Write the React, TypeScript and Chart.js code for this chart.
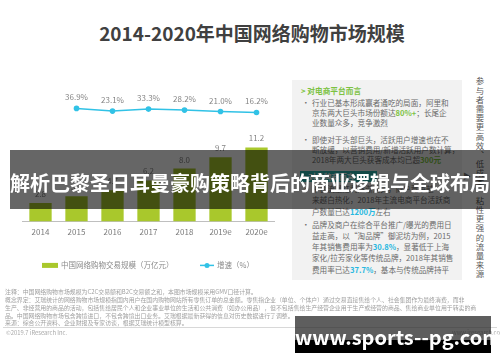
import React, { useEffect, useRef } from "react";
import { Chart, registerables } from "chart.js";
Chart.register(...registerables);

const years = ["2014", "2015", "2016", "2017", "2018", "2019e", "2020e"];
const marketSize = [2.8, 3.8, 4.7, 6.2, 8.0, 9.7, 11.2];
const growthRate = [null, 36.9, 23.1, 33.3, 28.2, 21.0, 16.2];
const barSeriesName = "中国网络购物交易规模（万亿元）";
const lineSeriesName = "增速（%）";
const titleText = "2014-2020年中国网络购物市场规模";
const bannerText = "解析巴黎圣日耳曼豪购策略背后的商业逻辑与全球布局";
const siteText = "www.sports--pg.com";
const sideText = "参与者需要更高效、低成本、粘性更强的流量来源";

const BAR_COLOR = "#a9c82c";
const LINE_COLOR = "#31c2e6";
const FONT = "'Noto Sans CJK SC', 'Noto Sans', sans-serif";

const valueLabelPlugin = {
  id: "valueLabels",
  afterDatasetsDraw(chart: any) {
    const ctx = chart.ctx;
    ctx.save();
    ctx.font = `8px ${FONT}`;
    ctx.fillStyle = "#858585";
    ctx.textAlign = "center";
    ctx.textBaseline = "middle";
    chart.data.datasets.forEach((ds: any, i: number) => {
      const meta = chart.getDatasetMeta(i);
      meta.data.forEach((el: any, j: number) => {
        const v = ds.data[j];
        if (v == null) return;
        const isLine = ds.type === "line";
        const txt = isLine ? v.toFixed(1) + "%" : v.toFixed(1);
        ctx.fillText(txt, el.x, el.y - (isLine ? 11 : 9));
      });
    });
    ctx.restore();
  },
};

const legendPlugin = {
  id: "customLegend",
  afterDraw(chart: any) {
    const ctx = chart.ctx;
    const area = chart.chartArea;
    ctx.save();
    ctx.font = `7.5px ${FONT}`;
    ctx.textBaseline = "middle";
    ctx.textAlign = "left";
    const box = 16;
    const gap = 3;
    let x = area.left + 19.5;
    const y = area.bottom + 44;
    ctx.fillStyle = BAR_COLOR;
    ctx.fillRect(x, y - 2.5, box, 5);
    x += box + gap;
    ctx.fillStyle = "#8a8a8a";
    ctx.fillText(barSeriesName, x, y);
    x = area.left + 177.5;
    ctx.strokeStyle = LINE_COLOR;
    ctx.lineWidth = 1.5;
    ctx.beginPath();
    ctx.moveTo(x, y);
    ctx.lineTo(x + 14, y);
    ctx.stroke();
    ctx.fillStyle = LINE_COLOR;
    ctx.beginPath();
    ctx.arc(x + 7, y, 2.5, 0, Math.PI * 2);
    ctx.fill();
    x += 14 + gap;
    ctx.fillStyle = "#8a8a8a";
    ctx.fillText(lineSeriesName, x, y);
    ctx.restore();
  },
};

function MarketChart() {
  const ref = useRef<HTMLCanvasElement | null>(null);
  useEffect(() => {
    if (!ref.current) return;
    const chart = new Chart(ref.current, {
      type: "bar",
      data: {
        labels: years,
        datasets: [
          {
            type: "line",
            label: lineSeriesName,
            data: growthRate as any,
            yAxisID: "y2",
            borderColor: LINE_COLOR,
            backgroundColor: LINE_COLOR,
            borderWidth: 1.5,
            pointRadius: 2.8,
            pointBackgroundColor: LINE_COLOR,
            pointBorderWidth: 0,
            tension: 0,
            order: 0,
          } as any,
          {
            type: "bar",
            label: barSeriesName,
            data: marketSize,
            yAxisID: "y",
            backgroundColor: BAR_COLOR,
            barPercentage: 0.62,
            categoryPercentage: 1,
            order: 1,
          },
        ],
      },
      options: {
        animation: false,
        responsive: false,
        maintainAspectRatio: false,
        devicePixelRatio: 1,
        layout: { padding: { top: 35, left: 22.5, right: 7.5, bottom: 47 } },
        plugins: { legend: { display: false }, tooltip: { enabled: false } },
        scales: {
          x: {
            offset: true,
            grid: { display: false, drawTicks: false },
            border: { display: true, color: "#bfbfbf", width: 1 },
            ticks: { color: "#7a7a7a", font: { size: 8, family: FONT }, padding: 6 },
          },
          y: { display: false, min: 0, max: 19.13 },
          y2: { display: false, min: -544.3, max: 105.9 },
        },
      },
      plugins: [valueLabelPlugin, legendPlugin],
    });
    return () => chart.destroy();
  }, []);
  return (
    <canvas
      ref={ref}
      width={282}
      height={230}
      style={{ position: "absolute", left: 0, top: 60, width: 282, height: 230 }}
    />
  );
}

type Part = { t: string; c?: string };
const panelLines: { y: number; bullet?: boolean; parts: Part[] }[] = [
  { y: 103, bullet: true, parts: [{ t: "行业已基本形成赢者通吃的局面，阿里和" }] },
  { y: 113, parts: [{ t: "京东两大巨头市场份额达" }, { t: "80%+", c: "#7cc242" }, { t: "；长尾企" }] },
  { y: 123, parts: [{ t: "业数量众多，竞争激烈" }] },
  { y: 140, bullet: true, parts: [{ t: "即使对于头部巨头，活跃用户增速也在不" }] },
  { y: 150, parts: [{ t: "断放缓，以营销费用/新增活跃用户数计算，" }] },
  { y: 160, parts: [{ t: "2018年两大巨头获客成本均已超" }, { t: "300元", c: "#7cc242" }] },
  { y: 189, bullet: true, parts: [{ t: "平台流量红利逐渐消失，商户竞争越" }] },
  { y: 200, parts: [{ t: "来越白热化，2018年主流电商平台活跃商" }] },
  { y: 212, parts: [{ t: "户数量已达" }, { t: "1200万", c: "#27b8e0" }, { t: "左右" }] },
  { y: 225, bullet: true, parts: [{ t: "品牌及商户在综合平台推广/曝光的费用日" }] },
  { y: 236, parts: [{ t: "益走高，以“淘品牌”御泥坊为例，2015" }] },
  { y: 247, parts: [{ t: "年其销售费用率为" }, { t: "30.8%", c: "#27b8e0" }, { t: "，显著低于上海" }] },
  { y: 258, parts: [{ t: "家化/拉芳家化等传统品牌，2018年其销售" }] },
  { y: 270, parts: [{ t: "费用率已达" }, { t: "37.7%", c: "#27b8e0" }, { t: "，基本与传统品牌持平" }] },
];

const footnotes: { y: number; t: string }[] = [
  { y: 292, t: "注释：中国网络购物市场规模为C2C交易额和B2C交易额之和，本图市场规模采用GMV口径计算。" },
  { y: 300, t: "概念界定：艾瑞统计的网络购物市场规模指国内用户在国内购物网站所有零售订单的总金额。零售指企业（单位、个体户）通过交易直接售给个人、社会集团作为最终消费，而非" },
  { y: 308, t: "生产、非经营用的商品的活动，包括售给居民个人和企业事业单位的生活和公共消费（如办公用品），但不包括售给生产经营企业用于生产或经营的商品、售给商业单位用于转卖的商" },
  { y: 316, t: "品。中国网络购物市场包含跨境进口，不包含跨境出口业务。艾瑞根据最新获得的信息对历史数据进行了调整。" },
  { y: 323, t: "来源：综合公开资料、企业财报及专家访谈，根据艾瑞统计模型核算。" },
];

export default function App() {
  return (
    <div
      style={{
        position: "absolute",
        left: 0,
        top: 0,
        width: 500,
        height: 362,
        overflow: "hidden",
        background: "#ffffff",
        fontFamily: FONT,
      }}
    >
      <div
        style={{
          position: "absolute",
          left: 0,
          width: 504,
          top: 22,
          lineHeight: "22px",
          textAlign: "center",
          fontSize: 19,
          fontWeight: 700,
          color: "#404040",
          whiteSpace: "nowrap",
        }}
      >
        {titleText}
      </div>

      <MarketChart />

      {/* right text panel */}
      <div style={{ position: "absolute", left: 292, top: 80, width: 170, height: 200, background: "#f2f2f2" }} />
      <div
        style={{
          position: "absolute",
          left: 301,
          top: 86,
          lineHeight: "10px",
          fontSize: 7.7,
          fontWeight: 700,
          color: "#7cc242",
          whiteSpace: "nowrap",
        }}
      >
        {">  对电商平台而言"}
      </div>
      <div
        style={{
          position: "absolute",
          left: 300,
          top: 171,
          width: 77,
          height: 11,
          background: "#2bb3ae",
          lineHeight: "11px",
          fontSize: 7.7,
          fontWeight: 700,
          color: "#ffffff",
          whiteSpace: "nowrap",
          paddingLeft: 2,
          boxSizing: "border-box",
        }}
      >
        {">  对品牌商而言"}
      </div>
      {panelLines.map((ln, i) => (
        <div
          key={i}
          style={{
            position: "absolute",
            left: 312,
            top: ln.y - 5,
            lineHeight: "10px",
            fontSize: 7.6,
            color: "#6a6a6a",
            whiteSpace: "nowrap",
          }}
        >
          {ln.bullet && (
            <span style={{ position: "absolute", left: -10, top: 0 }}>•</span>
          )}
          {ln.parts.map((p, k) => (
            <span key={k} style={p.c ? { color: p.c, fontWeight: 700 } : undefined}>
              {p.t}
            </span>
          ))}
        </div>
      ))}
      <div style={{ position: "absolute", left: 463, top: 171, fontSize: 8, color: "#707070", lineHeight: "10px" }}>▶</div>
      <div
        style={{
          position: "absolute",
          left: 474,
          top: 77,
          writingMode: "vertical-rl",
          fontSize: 8.4,
          letterSpacing: 0.8,
          lineHeight: "12px",
          color: "#595959",
          whiteSpace: "nowrap",
        }}
      >
        {sideText}
      </div>

      {/* footnotes */}
      {footnotes.map((f, i) => (
        <div
          key={i}
          style={{
            position: "absolute",
            left: 5,
            top: f.y - 3,
            fontSize: 5.9,
            lineHeight: "6px",
            color: "#a0a0a0",
            whiteSpace: "nowrap",
          }}
        >
          {f.t}
        </div>
      ))}
      <div style={{ position: "absolute", left: 3, top: 327, width: 494, height: 1, background: "#d8d8d8" }} />
      <div style={{ position: "absolute", left: 6, top: 330, fontSize: 5.8, lineHeight: "6px", color: "#a8a8a8", whiteSpace: "nowrap" }}>
        ©2019.7 iResearch Inc.
      </div>
      <div style={{ position: "absolute", left: 452, top: 330, fontSize: 5.8, lineHeight: "6px", color: "#a8a8a8", whiteSpace: "nowrap" }}>
        www.iresearch.com.cn
      </div>

      {/* overlay banner */}
      <div
        style={{
          position: "absolute",
          left: 10,
          top: 150,
          width: 480,
          height: 59,
          background: "rgba(0,0,0,0.6)",
        }}
      />
      <div
        style={{
          position: "absolute",
          left: 0,
          width: 500,
          top: 170,
          lineHeight: "26px",
          textAlign: "center",
          fontSize: 20,
          fontWeight: 700,
          color: "#ffffff",
          whiteSpace: "nowrap",
        }}
      >
        {bannerText}
      </div>

      {/* site badge */}
      <div style={{ position: "absolute", left: 295, top: 316, width: 196, height: 24, background: "rgba(40,40,40,0.75)" }} />
      <div style={{ position: "absolute", left: 295, top: 340, width: 196, height: 13, background: "#000000" }} />
      <div
        style={{
          position: "absolute",
          left: 295,
          width: 196,
          top: 324,
          lineHeight: "26px",
          textAlign: "center",
          fontSize: 20,
          fontWeight: 700,
          color: "#ffffff",
          whiteSpace: "nowrap",
        }}
      >
        {siteText}
      </div>
    </div>
  );
}
